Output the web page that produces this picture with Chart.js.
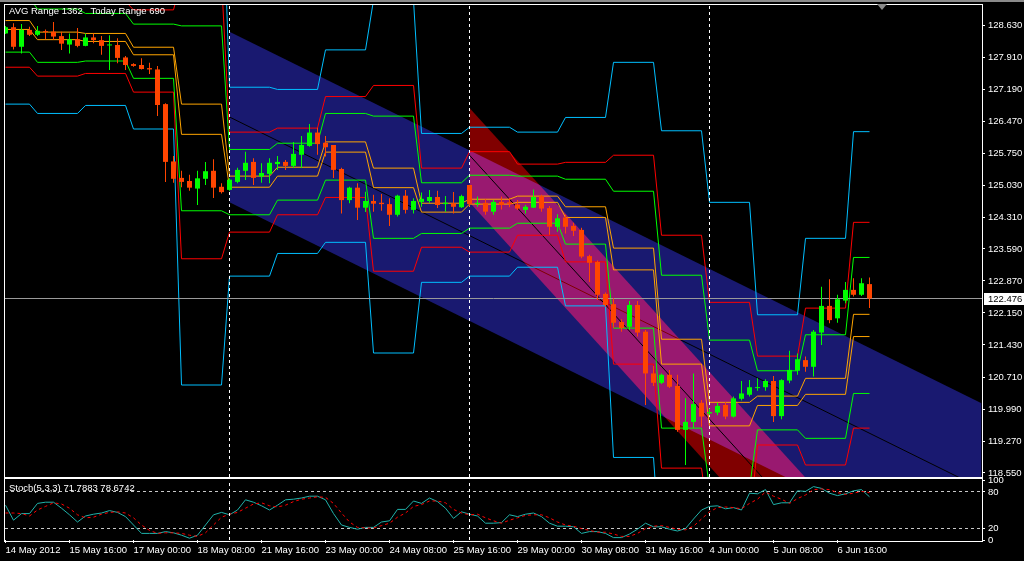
<!DOCTYPE html>
<html>
<head>
<meta charset="utf-8">
<title>H4 chart with daily range levels</title>
<script src="https://cdn.jsdelivr.net/npm/chart.js@4.4.1/dist/chart.umd.min.js"></script>
<style>
  html, body { margin: 0; padding: 0; background: #000; }
  #wrap { position: relative; width: 1024px; height: 561px; overflow: hidden; background: #000; }
  canvas { position: absolute; left: 0; }
  #main { top: 0; }
  #stoch { top: 468px; }
  #topbar { position: absolute; left: 0; top: 0; width: 1024px; height: 2px; background: #8a8a8a; }
  #shift { position: absolute; left: 877px; top: 4px; width: 0; height: 0;
           border-left: 5px solid transparent; border-right: 5px solid transparent; border-top: 6px solid #8a8a8a; }
  .txt { position: absolute; color: #fff; font: 9.5px "Liberation Sans", Arial, sans-serif;
         line-height: 12px; white-space: pre; }
</style>
</head>
<body>
<div id="wrap">
  <canvas id="main" width="1024" height="478"></canvas>
  <canvas id="stoch" width="1024" height="93"></canvas>
  <div id="topbar"></div>
  <div id="shift"></div>
  <div class="txt" style="left:9px;top:5px">AVG Range 1362   Today Range 690</div>
  <div class="txt" style="left:9px;top:482px">Stoch(5,3,3) 71.7883 78.6742</div>
</div>
<script>
// H4 candles, bar 0 = 14 May 2012
const opens = [
  128.44, 128.58, 128.14, 128.52, 128.41, 128.48, 128.48, 128.38, 128.19, 128.31,
  128.16, 128.35, 128.29, 128.17, 128.18, 127.90, 127.75, 127.73, 127.66, 127.63,
  126.85, 125.56, 125.19, 125.12, 124.95, 125.17, 125.35, 124.99, 124.92, 125.10,
  125.35, 125.55, 125.22, 125.28, 125.50, 125.55, 125.46, 125.71, 125.91, 126.21,
  125.98, 125.93, 125.39, 124.69, 124.97, 124.52, 124.67, 124.63, 124.60, 124.36,
  124.79, 124.47, 124.65, 124.67, 124.76, 124.60, 124.62, 124.53, 125.03, 124.60,
  124.63, 124.43, 124.65, 124.64, 124.59, 124.47, 124.52, 124.78, 124.51, 124.09,
  124.30, 124.11, 124.02, 123.43, 123.30, 122.58, 122.35, 121.95, 121.84, 122.33,
  121.73, 120.79, 120.58, 120.76, 120.51, 119.52, 119.70, 120.13, 119.89, 119.91,
  120.08, 119.82, 120.22, 120.31, 120.46, 120.48, 120.62, 119.83, 120.63, 120.85,
  121.09, 120.94, 121.71, 122.31, 122.03, 122.43, 122.67, 122.56, 122.80
];
const highs = [
  128.61, 128.67, 128.65, 128.59, 128.61, 128.53, 128.70, 128.48, 128.44, 128.56,
  128.44, 128.44, 128.38, 128.40, 128.33, 127.93, 127.77, 127.88, 127.78, 127.71,
  126.87, 125.68, 125.35, 125.26, 125.35, 125.55, 125.61, 125.07, 125.18, 125.42,
  125.78, 125.63, 125.52, 125.63, 125.68, 125.59, 126.00, 126.13, 126.40, 126.32,
  126.13, 125.93, 125.42, 124.99, 125.07, 124.88, 124.81, 124.83, 124.73, 124.81,
  124.92, 124.73, 124.86, 124.92, 124.90, 124.78, 124.87, 124.81, 125.03, 124.77,
  124.71, 124.69, 124.77, 124.74, 124.69, 124.58, 124.93, 124.81, 124.56, 124.37,
  124.36, 124.18, 124.07, 123.46, 123.33, 122.61, 122.48, 122.01, 122.42, 122.42,
  121.77, 120.96, 120.79, 120.87, 120.76, 120.23, 120.79, 120.19, 120.00, 120.13,
  120.15, 120.27, 120.62, 120.64, 120.68, 120.66, 120.73, 120.66, 121.30, 121.24,
  121.17, 121.77, 122.74, 122.91, 122.56, 122.85, 122.93, 122.93, 122.95
];
const lows = [
  128.43, 128.08, 127.99, 128.38, 128.38, 128.31, 128.29, 128.07, 127.99, 128.13,
  128.15, 128.22, 127.96, 127.62, 127.77, 127.62, 127.69, 127.63, 127.53, 126.58,
  125.10, 125.08, 124.98, 124.90, 124.58, 125.03, 124.74, 124.84, 124.90, 125.07,
  125.14, 125.03, 125.08, 125.07, 125.37, 125.37, 125.41, 125.41, 125.89, 125.71,
  125.67, 125.19, 124.39, 124.62, 124.24, 124.42, 124.43, 124.45, 124.11, 124.32,
  124.39, 124.39, 124.54, 124.63, 124.51, 124.43, 124.39, 124.51, 124.54, 124.54,
  124.36, 124.36, 124.48, 124.53, 124.47, 124.39, 124.51, 124.43, 123.91, 123.98,
  123.94, 123.88, 123.38, 122.85, 122.44, 122.29, 121.81, 121.73, 121.77, 121.62,
  120.08, 120.51, 120.55, 120.46, 119.48, 118.73, 119.56, 119.59, 119.85, 119.85,
  119.76, 119.80, 120.18, 120.27, 120.40, 120.40, 119.70, 119.76, 120.57, 120.76,
  120.83, 120.72, 121.43, 121.92, 121.93, 122.37, 122.52, 122.53, 122.26
];
const closes = [
  128.58, 128.14, 128.52, 128.41, 128.50, 128.47, 128.37, 128.21, 128.31, 128.16,
  128.35, 128.29, 128.16, 128.19, 127.89, 127.73, 127.71, 127.64, 127.63, 126.83,
  125.55, 125.17, 125.10, 124.97, 125.18, 125.34, 124.97, 124.87, 125.15, 125.37,
  125.53, 125.19, 125.30, 125.53, 125.55, 125.46, 125.73, 125.93, 126.21, 125.95,
  125.88, 125.37, 124.69, 124.97, 124.52, 124.67, 124.61, 124.60, 124.36, 124.79,
  124.47, 124.67, 124.72, 124.76, 124.58, 124.63, 124.54, 124.78, 124.60, 124.63,
  124.43, 124.65, 124.58, 124.60, 124.50, 124.54, 124.76, 124.50, 124.09, 124.28,
  124.09, 124.00, 123.42, 123.28, 122.56, 122.33, 121.93, 121.81, 122.33, 121.71,
  120.79, 120.58, 120.76, 120.49, 119.52, 119.70, 120.10, 119.82, 119.92, 120.06,
  119.82, 120.23, 120.34, 120.48, 120.48, 120.62, 119.83, 120.64, 120.87, 121.11,
  120.94, 121.73, 122.31, 121.99, 122.46, 122.67, 122.56, 122.82, 122.476
];
const lastPrice = 122.476;

// daily range levels, one value per trading day (bar where each day starts)
const dayStarts = [0, 4, 10, 16, 22, 28, 34, 40, 46, 52, 58, 64, 70, 76, 82, 88, 94, 100, 106];
const cyanTop = [130.41, 130.12, 129.88, 129.79, 132.48, 127.23, 127.18, 128.07, 129.19, 126.19,
                 126.33, 126.22, 126.55, 127.79, 126.25, 124.64, 122.11, 123.83, 126.23];
const redTop = [129.58, 129.28, 129.16, 128.97, 129.66, 126.22, 126.31, 127.02, 127.27, 125.41,
                125.78, 125.50, 125.54, 125.70, 123.90, 122.39, 121.18, 122.26, 124.19];
const greenTop = [129.24, 128.99, 128.89, 128.65, 128.61, 125.83, 125.97, 126.64, 126.58, 125.08,
                  125.25, 125.23, 125.16, 124.89, 123.00, 121.54, 120.85, 121.66, 123.40];
const orangeTop = [128.73, 128.47, 128.44, 128.13, 126.85, 125.23, 125.43, 126.00, 125.41, 124.62,
                   124.71, 124.78, 124.54, 123.61, 121.56, 120.14, 120.28, 120.68, 122.12];
const orangeBot = [128.53, 128.30, 128.26, 127.96, 126.17, 124.98, 125.23, 125.77, 124.97, 124.42,
                   124.60, 124.64, 124.30, 123.12, 121.00, 119.61, 120.07, 120.32, 121.62];
const greenBot = [128.02, 127.79, 127.82, 127.43, 124.45, 124.36, 124.69, 125.14, 123.83, 123.94,
                  124.06, 124.17, 123.70, 121.81, 119.56, 118.21, 119.52, 119.33, 120.34];
const redBot = [127.68, 127.48, 127.54, 127.12, 123.37, 123.97, 124.36, 124.75, 123.09, 123.63,
                123.52, 123.90, 123.30, 121.00, 118.66, 117.36, 119.18, 118.73, 119.56];
const cyanBot = [126.85, 126.64, 126.82, 126.29, 120.53, 122.98, 123.49, 123.74, 121.25, 122.84,
                 122.98, 123.18, 122.31, 118.90, 116.31, 115.11, 118.26, 117.16, 117.51];

// regression channels: [start bar, end bar]
const blueChanX = [28, 122];
const blueChanUpper = [128.48, 120.12];
const blueChanMid = [126.56, 118.20];
const blueChanLower = [124.64, 116.28];
const redChanX = [58, 122];
const redChanUpper = [126.76, 114.09];
const redChanMid = [125.70, 113.03];
const redChanLower = [124.64, 111.97];

// Stochastic (5,3,3)
const stochMain = [
  58, 33, 44, 44, 61, 63, 63, 53, 42, 30, 40, 43, 45, 49, 46, 39, 25, 11, 11, 11,
  14, 12, 8, 3, 8, 25, 42, 46, 42, 50, 67, 63, 57, 50, 58, 67, 68, 70, 73, 73,
  67, 44, 25, 21, 18, 21, 21, 30, 32, 51, 51, 65, 61, 70, 64, 53, 36, 47, 43, 40,
  28, 28, 29, 42, 39, 43, 45, 39, 28, 23, 23, 22, 11, 14, 14, 11, 4, 4, 10, 18,
  28, 22, 22, 18, 15, 19, 35, 50, 56, 57, 52, 54, 50, 78, 77, 84, 59, 62, 62, 82,
  81, 89, 86, 78, 74, 77, 82, 84, 72
];
const stochSignal = [
  45, 45, 44, 40, 50, 56, 62, 60, 53, 42, 37, 38, 43, 46, 47, 45, 37, 25, 16, 11,
  12, 12, 11, 8, 6, 12, 25, 38, 43, 46, 53, 60, 62, 57, 55, 58, 64, 68, 70, 72,
  71, 61, 45, 30, 21, 20, 20, 24, 28, 38, 45, 56, 59, 65, 65, 62, 51, 45, 42, 43,
  37, 32, 28, 33, 37, 41, 42, 42, 37, 30, 25, 23, 19, 16, 13, 13, 10, 6, 6, 11,
  19, 23, 24, 21, 18, 17, 23, 35, 47, 54, 55, 54, 52, 61, 68, 80, 73, 68, 61, 69,
  75, 84, 85, 84, 79, 76, 78, 81, 79
];

// axes
const priceTicks = [128.63, 127.91, 127.19, 126.47, 125.75, 125.03, 124.31, 123.59,
                    122.87, 122.15, 121.43, 120.71, 119.99, 119.27, 118.55];
const stochTicks = [0, 20, 80, 100];
const timeTicks = [0, 8, 16, 24, 32, 40, 48, 56, 64, 72, 80, 88, 96, 104];
const timeLabels = ['14 May 2012', '15 May 16:00', '17 May 00:00', '18 May 08:00', '21 May 16:00',
                    '23 May 00:00', '24 May 08:00', '25 May 16:00', '29 May 00:00', '30 May 08:00',
                    '31 May 16:00', '4 Jun 00:00', '5 Jun 08:00', '6 Jun 16:00'];
const separators = [28, 58, 88];

const X_MIN = -0.0625, X_MAX = 122.0625;
const Y_MIN = 118.46, Y_MAX = 129.08;

const BULL = '#00ff00';
const BEAR = '#ff4500';
const FONT = { family: '"Liberation Sans", Arial, sans-serif', size: 9.5 };

Chart.defaults.font.family = FONT.family;
Chart.defaults.font.size = FONT.size;
Chart.defaults.color = '#fff';

const lastBar = opens.length - 1;

function stepPoints(levels) {
  const pts = [];
  levels.forEach((v, d) => {
    const end = d + 1 < dayStarts.length ? dayStarts[d + 1] - 1 : lastBar;
    pts.push({ x: dayStarts[d], y: v }, { x: end, y: v });
  });
  return pts;
}

function pairPoints(xs, ys) {
  return xs.map((x, i) => ({ x, y: ys[i] }));
}

function lineSet(data, color, order, extra = {}) {
  return {
    type: 'line', data, order,
    borderColor: color, borderWidth: 1,
    pointRadius: 0, tension: 0, fill: false,
    ...extra,
  };
}

// fixed axis box, no label overflow padding
function fixWidth(w) {
  return s => { s.width = w; s.paddingTop = 0; s.paddingBottom = 0; };
}
function fixHeight(h) {
  return s => { s.height = h; s.paddingLeft = 0; s.paddingRight = 0; };
}

const candleColors = closes.map((c, i) => (c >= opens[i] ? BULL : BEAR));

// white frame around the plot area
const frame = {
  id: 'frame',
  afterDraw(chart, args, opts) {
    const { ctx, chartArea: a } = chart;
    ctx.save();
    ctx.strokeStyle = '#fff';
    ctx.lineWidth = 1;
    ctx.strokeRect(a.left - 0.5, a.top - opts.top, a.right - a.left + 1,
                   a.bottom - a.top + opts.top + opts.bottom);
    ctx.restore();
  },
};

// overlapping channel fills add up like the terminal does
const additiveFill = {
  id: 'additiveFill',
  afterDatasetDraw(chart, args) {
    if (chart.data.datasets[args.index].label === 'redLower') {
      chart.ctx.globalCompositeOperation = 'lighter';
    }
  },
  beforeDatasetDraw(chart, args) {
    if (chart.data.datasets[args.index].label === 'redUpper') {
      chart.ctx.globalCompositeOperation = 'source-over';
    }
  },
};

// last price tag on the right scale
const priceTag = {
  id: 'priceTag',
  afterDraw(chart) {
    const { ctx, chartArea, scales: { y } } = chart;
    const py = Math.round(y.getPixelForValue(lastPrice));
    ctx.save();
    ctx.fillStyle = '#fff';
    ctx.fillRect(chartArea.right + 2, py - 6, 40, 12);
    ctx.fillStyle = '#000';
    ctx.font = `${FONT.size}px ${FONT.family}`;
    ctx.textBaseline = 'middle';
    ctx.fillText(lastPrice.toFixed(3), chartArea.right + 6, py + 0.5);
    ctx.restore();
  },
};

const transparent = 'rgba(0,0,0,0)';

const mainDatasets = [
  {
    type: 'bar', label: 'bodies', order: 0,
    data: opens.map((o, i) => ({ x: i, y: [o, closes[i]] })),
    backgroundColor: candleColors, barThickness: 5, minBarLength: 1,
    grouped: false, inflateAmount: 0, borderWidth: 0,
  },
  {
    type: 'bar', label: 'wicks', order: 1,
    data: lows.map((l, i) => ({ x: i, y: [l, highs[i]] })),
    backgroundColor: candleColors, barThickness: 1,
    grouped: false, inflateAmount: 0, borderWidth: 0,
  },
  ...separators.map(s => lineSet([{ x: s, y: Y_MIN }, { x: s, y: Y_MAX }], '#fff', 2, { borderDash: [3, 3] })),
  lineSet([{ x: X_MIN, y: lastPrice }, { x: X_MAX, y: lastPrice }], '#9a9a9a', 3),
  lineSet(stepPoints(orangeTop), '#ffa500', 4),
  lineSet(stepPoints(orangeBot), '#ffa500', 4),
  lineSet(stepPoints(greenTop), '#00ff00', 4),
  lineSet(stepPoints(greenBot), '#00ff00', 4),
  lineSet(stepPoints(redTop), '#ff0000', 4),
  lineSet(stepPoints(redBot), '#ff0000', 4),
  lineSet(stepPoints(cyanTop), '#00bfff', 4),
  lineSet(stepPoints(cyanBot), '#00bfff', 4),
  lineSet(pairPoints(redChanX, redChanMid), '#000', 5),
  lineSet(pairPoints(redChanX, redChanUpper), transparent, 6,
          { label: 'redUpper', fill: '+1', backgroundColor: '#800000' }),
  lineSet(pairPoints(redChanX, redChanLower), transparent, 7, { label: 'redLower' }),
  lineSet(pairPoints(blueChanX, blueChanMid), '#000', 8),
  lineSet(pairPoints(blueChanX, blueChanUpper), transparent, 9,
          { label: 'blueUpper', fill: '+1', backgroundColor: '#191970' }),
  lineSet(pairPoints(blueChanX, blueChanLower), transparent, 10, { label: 'blueLower' }),
];

new Chart(document.getElementById('main'), {
  type: 'line',
  data: { datasets: mainDatasets },
  options: {
    responsive: false,
    animation: false,
    devicePixelRatio: 1,
    events: [],
    layout: { padding: { left: 5, top: 5, right: 0, bottom: 1 }, autoPadding: false },
    plugins: {
      legend: { display: false },
      tooltip: { enabled: false },
      frame: { top: 0.5, bottom: 0.5 },
    },
    scales: {
      x: { type: 'linear', display: false, min: X_MIN, max: X_MAX, offset: false },
      y: {
        type: 'linear', position: 'right', min: Y_MIN, max: Y_MAX,
        afterBuildTicks: s => { s.ticks = priceTicks.map(v => ({ value: v })); },
        afterFit: fixWidth(42),
        ticks: { color: '#fff', padding: 3, autoSkip: false, callback: v => v.toFixed(3) },
        grid: { drawOnChartArea: false, drawTicks: true, tickLength: 3, color: '#fff' },
        border: { display: false },
      },
    },
  },
  plugins: [additiveFill, frame, priceTag],
});

new Chart(document.getElementById('stoch'), {
  type: 'line',
  data: {
    datasets: [
      ...separators.map(s => lineSet([{ x: s, y: 0 }, { x: s, y: 100 }], '#fff', 0, { borderDash: [3, 3] })),
      lineSet(stochMain.map((v, i) => ({ x: i, y: v })), '#20b2aa', 2),
      lineSet(stochSignal.map((v, i) => ({ x: i, y: v })), '#ff0000', 1, { borderDash: [3, 3] }),
    ],
  },
  options: {
    responsive: false,
    animation: false,
    devicePixelRatio: 1,
    events: [],
    layout: { padding: { left: 5, top: 12, right: 0, bottom: 0 }, autoPadding: false },
    plugins: {
      legend: { display: false },
      tooltip: { enabled: false },
      frame: { top: 1.5, bottom: 1.5 },
    },
    scales: {
      x: {
        type: 'linear', min: X_MIN, max: X_MAX, offset: false,
        afterBuildTicks: s => { s.ticks = timeTicks.map(v => ({ value: v })); },
        afterFit: fixHeight(21),
        ticks: { color: '#fff', align: 'start', autoSkip: false, maxRotation: 0, padding: 2,
                 callback: (v, i) => timeLabels[i] },
        grid: { drawOnChartArea: false, drawTicks: true, tickLength: 3, color: '#fff' },
        border: { display: false },
      },
      y: {
        type: 'linear', position: 'right', min: 0, max: 100,
        afterBuildTicks: s => { s.ticks = stochTicks.map(v => ({ value: v })); },
        afterFit: fixWidth(42),
        ticks: { color: '#fff', padding: 3, autoSkip: false, callback: v => String(v) },
        grid: {
          drawOnChartArea: true, drawTicks: true, tickLength: 3, tickColor: '#fff',
          color: c => (c.tick && (c.tick.value === 20 || c.tick.value === 80)) ? '#c8c8c8' : transparent,
        },
        border: { display: false, dash: [3, 3] },
      },
    },
  },
  plugins: [frame],
});
</script>
</body>
</html>
